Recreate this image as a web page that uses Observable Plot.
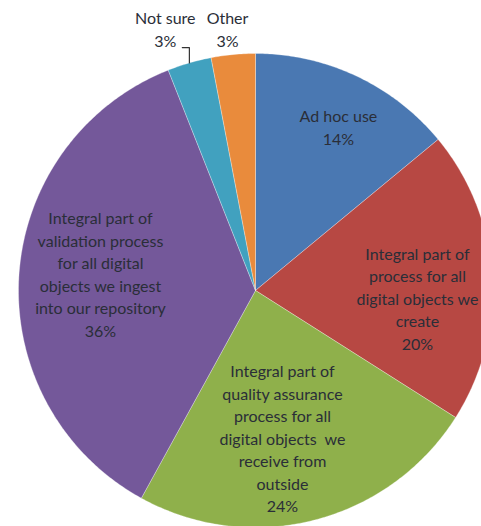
<!DOCTYPE html>
<html>
<head>
<meta charset="utf-8">
<script src="https://cdn.jsdelivr.net/npm/d3@7"></script>
<script src="https://cdn.jsdelivr.net/npm/@observablehq/plot@0.6"></script>
<style>
  html, body { margin: 0; padding: 0; background: #fff; }
  #chart { width: 481px; height: 526px; overflow: hidden; }
</style>
</head>
<body>
<div id="chart"></div>
<script>
// ---- data ----
const categories = ["Ad hoc use", "Integral part of process", "Integral part of quality assurance", "Integral part of validation", "Not sure", "Other"];
const values = [14, 20, 24, 36, 3, 3];
const labelTexts = [
  "Ad hoc use\n14%",
  "Integral part of\nprocess for all\ndigital objects we\ncreate\n20%",
  "Integral part of\nquality assurance\nprocess for all\ndigital objects  we\nreceive from\noutside\n24%",
  "Integral part of\nvalidation process\nfor all digital\nobjects we ingest\ninto our repository\n36%",
  "Not sure\n3%",
  "Other\n3%"
];
const colors = ["#4a78b2", "#b74843", "#8fb04b", "#74589a", "#41a1bf", "#e98b3c"];

// ---- layout (not data) ----
const W = 481, H = 526;
const cx = 255, cy = 290, R = 237;
const labelRadius = [0.776, 0.684, 0.631, 0.658, 1.169, 1.112];
const labelNudgeDeg = [1.6, 6.1, 4.0, 2.7, -2.8, -0.7];

const pie = d3.pie().sort(null).value(d => d.value);
const arcs = pie(categories.map((c, i) => ({name: c, value: values[i], i})));

const polyPts = [];
for (const a of arcs) {
  polyPts.push({name: a.data.name, x: cx, y: cy});
  const n = Math.max(8, Math.ceil((a.endAngle - a.startAngle) / 0.01));
  for (let k = 0; k <= n; k++) {
    const t = a.startAngle + (a.endAngle - a.startAngle) * k / n;
    polyPts.push({name: a.data.name, x: cx + R * Math.sin(t), y: cy - R * Math.cos(t)});
  }
  polyPts.push({name: a.data.name, x: cx, y: cy});
}

const labels = arcs.map((a, i) => {
  const mid = (a.startAngle + a.endAngle) / 2 + labelNudgeDeg[i] * Math.PI / 180;
  const r = R * labelRadius[i];
  return {text: labelTexts[i], x: cx + r * Math.sin(mid), y: cy - r * Math.cos(mid)};
});

// leader line for "Not sure"
const ns = arcs[4];
const nsMid = (ns.startAngle + ns.endAngle) / 2;
const p0 = {x: cx + R * Math.sin(nsMid), y: cy - R * Math.cos(nsMid)};
const leader = [
  p0,
  {x: p0.x, y: labels[4].y + 19},
  {x: labels[4].x + 17, y: labels[4].y + 19}
];

const chart = Plot.plot({
  width: W,
  height: H,
  margin: 0,
  x: {domain: [0, W], range: [0, W], axis: null},
  y: {domain: [0, H], range: [0, H], axis: null},
  color: {domain: categories, range: colors},
  style: {fontFamily: "Lato, 'Open Sans', sans-serif", background: "#fff"},
  marks: [
    Plot.line(polyPts, {x: "x", y: "y", z: "name", fill: "name", stroke: "#ffffff", strokeWidth: 0.6, strokeOpacity: 0.5, curve: "linear"}),
    Plot.line(leader, {x: "x", y: "y", stroke: "#333", strokeWidth: 1.2}),
    Plot.text(labels, {x: "x", y: "y", text: "text", fontSize: 16, lineHeight: 1.41, textAnchor: "middle", lineAnchor: "middle", fill: "#2a2e38"})
  ]
});
document.getElementById("chart").appendChild(chart);
</script>
</body>
</html>
